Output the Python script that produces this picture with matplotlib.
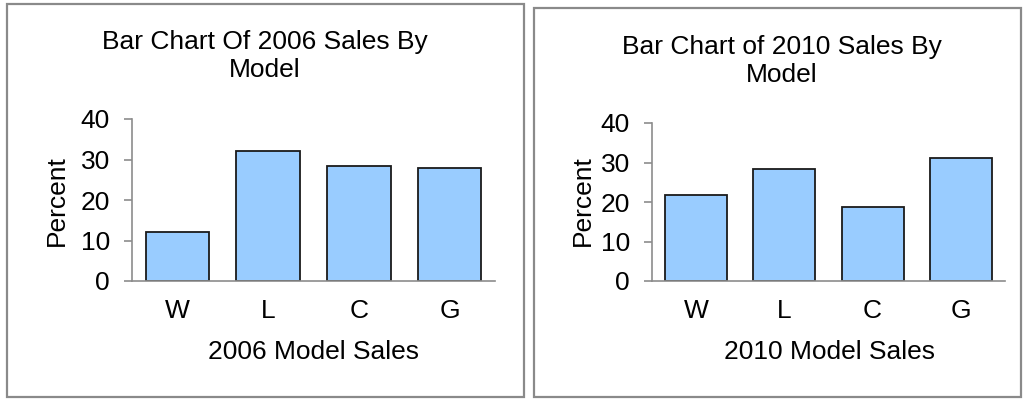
import matplotlib.pyplot as plt
from matplotlib.patches import Rectangle

plt.rcParams['font.family'] = ['Liberation Sans', 'DejaVu Sans']

# 数据
models = ['W', 'L', 'C', 'G']
sales_2006 = [12.0, 32.0, 28.5, 28.0]
sales_2010 = [21.7, 28.3, 18.8, 31.2]
yticks = [0, 10, 20, 30, 40]

BAR_COLOR = '#99ccff'
EDGE_COLOR = '#1a1a1a'
AXIS_COLOR = '#8c8c8c'
BORDER_COLOR = '#8a8a8a'
FS = 19

W, H = 1024, 399
fig = plt.figure(figsize=(W / 100, H / 100), dpi=100)


def px_rect(x0, y0, x1, y1):
    # 像素坐标 (左上原点) -> figure 坐标
    return [x0 / W, 1 - y1 / H, (x1 - x0) / W, (y1 - y0) / H]


# 两个面板的灰色边框
for (x0, y0, x1, y1) in [(7, 4, 524, 397), (534, 8, 1021, 397)]:
    fig.patches.append(Rectangle((x0 / W, 1 - y1 / H), (x1 - x0) / W, (y1 - y0) / H,
                                 transform=fig.transFigure, fill=False,
                                 edgecolor=BORDER_COLOR, linewidth=1.6))


def draw_panel(rect, values, title, xlabel, title_x, title_y, xlab_x, ylab_x):
    ax = fig.add_axes(px_rect(*rect))
    ax.bar(range(len(models)), values, width=0.7, color=BAR_COLOR,
           edgecolor=EDGE_COLOR, linewidth=1.3)
    ax.set_xlim(-0.5, len(models) - 0.5)
    ax.set_ylim(0, 40)
    ax.set_yticks(yticks)
    ax.set_xticks(range(len(models)))
    ax.set_xticklabels(models)
    for s in ['top', 'right']:
        ax.spines[s].set_visible(False)
    for s in ['left', 'bottom']:
        ax.spines[s].set_color(AXIS_COLOR)
        ax.spines[s].set_linewidth(1.2)
    ax.tick_params(axis='y', length=6, width=1.2, color=AXIS_COLOR,
                   labelsize=FS, pad=10, labelcolor='black')
    ax.tick_params(axis='x', length=0, labelsize=FS, pad=13, labelcolor='black')
    fig.text(title_x / W, 1 - title_y / H, title, ha='center', va='center',
             fontsize=FS, linespacing=1.2)
    fig.text(xlab_x / W, 1 - 352 / H, xlabel, ha='center', va='center', fontsize=FS)
    fig.text(ylab_x / W, 1 - 201 / H, 'Percent', ha='center', va='center',
             rotation=90, fontsize=FS)
    return ax


draw_panel((132, 119, 495, 281), sales_2006, 'Bar Chart Of 2006 Sales By\nModel',
           '2006 Model Sales', 265, 56, 313, 57)
draw_panel((652, 123, 1005, 281), sales_2010, 'Bar Chart of 2010 Sales By\nModel',
           '2010 Model Sales', 782, 61, 830, 583)

fig.savefig('out.png', dpi=100)
